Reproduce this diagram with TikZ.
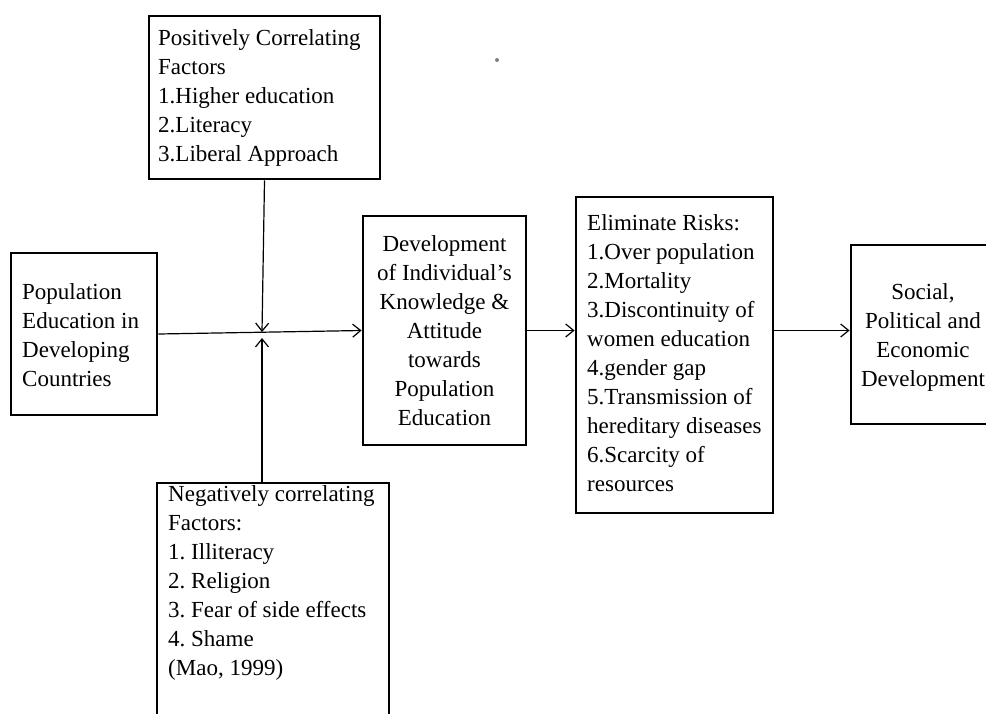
\documentclass[tikz,border=0pt]{standalone}
\usepackage{fontspec}
\setmainfont{Liberation Serif}
\usetikzlibrary{arrows.meta, positioning, calc}
\frenchspacing

\tikzset{
    box/.style={rectangle,draw=black,line width=2.8pt},
    txt/.style={inner sep=0pt,font=\fontsize{23}{29}\selectfont},
    flow/.style={line width=1.2pt,-{Straight Barb[length=8pt,width=13pt]}},
}

\begin{document}
\begin{tikzpicture}[x=1pt,y=-1pt]
    \clip (0,0) rectangle (986,713);

    % Fattori positivi
    \node[box,minimum width=231pt,minimum height=163pt] (pos) at (264.5,97.5) {};
    \node[txt,anchor=west,align=left] at (158,97.5) {
        Positively Correlating\\Factors\\1.Higher education\\2.Literacy\\3.Liberal Approach
    };

    % Popolazione
    \node[box,minimum width=146pt,minimum height=162pt] (pop) at (84,334) {};
    \node[txt,anchor=west,align=left] at (22,335) {
        Population\\Education in\\Developing\\Countries
    };

    % Sviluppo individuale
    \node[box,minimum width=163pt,minimum height=229pt] (dev) at (444.5,330.5) {};
    \node[txt,align=center] at (444.5,331) {
        Development\\of Individual’s\\Knowledge \&\\Attitude\\towards\\Population\\Education
    };

    % Rischi
    \node[box,minimum width=197pt,minimum height=316pt] (risk) at (674.5,355) {};
    \node[txt,anchor=west,align=left] at (587,353.5) {
        Eliminate Risks:\\1.Over population\\2.Mortality\\3.Discontinuity of\\women education\\4.gender gap\\5.Transmission of\\hereditary diseases\\6.Scarcity of\\resources
    };

    % Sviluppo sociale
    \node[box,minimum width=148pt,minimum height=179pt] (soc) at (925,334.5) {};
    \node[txt,align=center] at (923,337) {
        Social,\\Political and\\Economic\\Development
    };

    % Fattori negativi
    \node[box,minimum width=232pt,minimum height=246pt] (neg) at (273,606) {};
    \node[txt,anchor=west,align=left] at (168,582.5) {
        Negatively correlating\\Factors:\\1. Illiteracy\\2. Religion\\3. Fear of side effects\\4. Shame\\(Mao, 1999)
    };

    % Frecce
    \coordinate (jn) at (262,332);
    \coordinate (jb) at (262,338);
    \draw[flow] (pop.east) -- (dev.west);
    \draw[flow] (pos.south) -- (jn);
    \draw[flow] (neg.north -| jb) -- (jb);
    \draw[flow] (dev.east) -- (dev.east -| risk.west);
    \draw[flow] (risk.east |- dev.east) -- (soc.west |- dev.east);

    % punto
    \fill[gray] (497,60) circle (2pt);
\end{tikzpicture}
\end{document}
